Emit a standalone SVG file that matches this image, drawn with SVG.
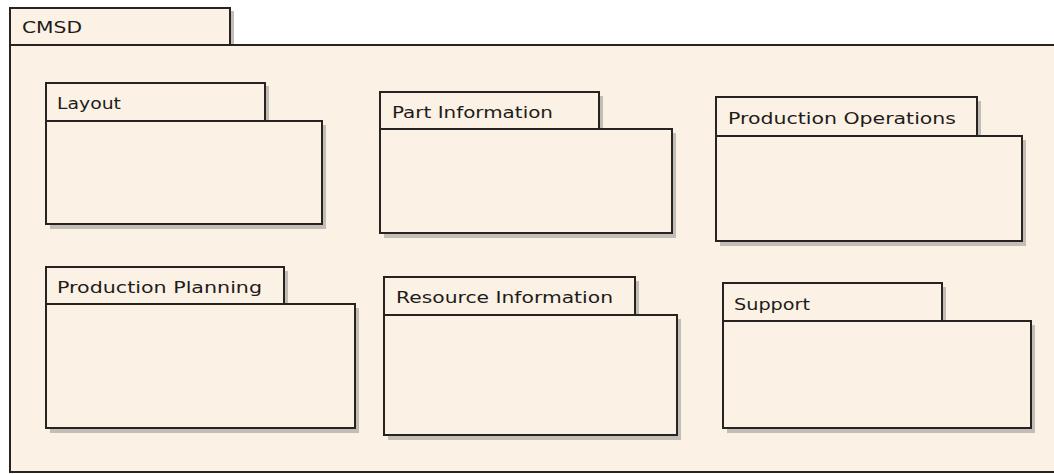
<svg xmlns="http://www.w3.org/2000/svg" width="1054" height="474" viewBox="0 0 1054 474">
<defs>
<style>
.sh{fill:#c2bdb6}
.pk{fill:#fbf1e5;stroke:#262320;stroke-width:2}
.lbl{font-family:"DejaVu Sans","Liberation Sans",sans-serif;font-size:15px;fill:#1e1c1a}
</style>
</defs>
<rect x="0" y="0" width="1054" height="474" fill="#ffffff"/>
<g id="cmsd">
<rect class="sh" x="14" y="11" width="220" height="38"/>
<rect class="pk" x="10" y="8" width="220" height="37"/>
<rect class="pk" x="10" y="45" width="1060" height="427"/>
<text class="lbl" x="22" y="33" textLength="60" lengthAdjust="spacingAndGlyphs">CMSD</text>
</g>
<g id="layout">
<rect class="sh" x="50" y="86" width="219" height="40"/>
<rect class="sh" x="50" y="125" width="276" height="104"/>
<rect class="pk" x="46" y="83" width="219" height="38"/>
<rect class="pk" x="46" y="121" width="276" height="103"/>
<text class="lbl" x="57" y="109" textLength="64" lengthAdjust="spacingAndGlyphs">Layout</text>
</g>
<g id="part-information">
<rect class="sh" x="384" y="96" width="219" height="38"/>
<rect class="sh" x="384" y="133" width="292" height="105"/>
<rect class="pk" x="380" y="92" width="219" height="37"/>
<rect class="pk" x="380" y="129" width="292" height="104"/>
<text class="lbl" x="392" y="118" textLength="161" lengthAdjust="spacingAndGlyphs">Part Information</text>
</g>
<g id="production-operations">
<rect class="sh" x="720" y="101" width="261" height="40"/>
<rect class="sh" x="720" y="140" width="306" height="106"/>
<rect class="pk" x="716" y="97" width="261" height="39"/>
<rect class="pk" x="716" y="136" width="306" height="105"/>
<text class="lbl" x="728" y="124" textLength="228" lengthAdjust="spacingAndGlyphs">Production Operations</text>
</g>
<g id="production-planning">
<rect class="sh" x="50" y="271" width="238" height="38"/>
<rect class="sh" x="50" y="308" width="309" height="125"/>
<rect class="pk" x="46" y="267" width="238" height="37"/>
<rect class="pk" x="46" y="304" width="309" height="124"/>
<text class="lbl" x="57" y="293" textLength="205" lengthAdjust="spacingAndGlyphs">Production Planning</text>
</g>
<g id="resource-information">
<rect class="sh" x="388" y="281" width="251" height="39"/>
<rect class="sh" x="388" y="319" width="293" height="121"/>
<rect class="pk" x="384" y="277" width="251" height="38"/>
<rect class="pk" x="384" y="315" width="293" height="120"/>
<text class="lbl" x="396" y="303" textLength="217" lengthAdjust="spacingAndGlyphs">Resource Information</text>
</g>
<g id="support">
<rect class="sh" x="727" y="287" width="219" height="39"/>
<rect class="sh" x="727" y="325" width="308" height="108"/>
<rect class="pk" x="723" y="283" width="219" height="38"/>
<rect class="pk" x="723" y="321" width="308" height="107"/>
<text class="lbl" x="734" y="310" textLength="76" lengthAdjust="spacingAndGlyphs">Support</text>
</g>
<g id="connectors"></g>
</svg>
